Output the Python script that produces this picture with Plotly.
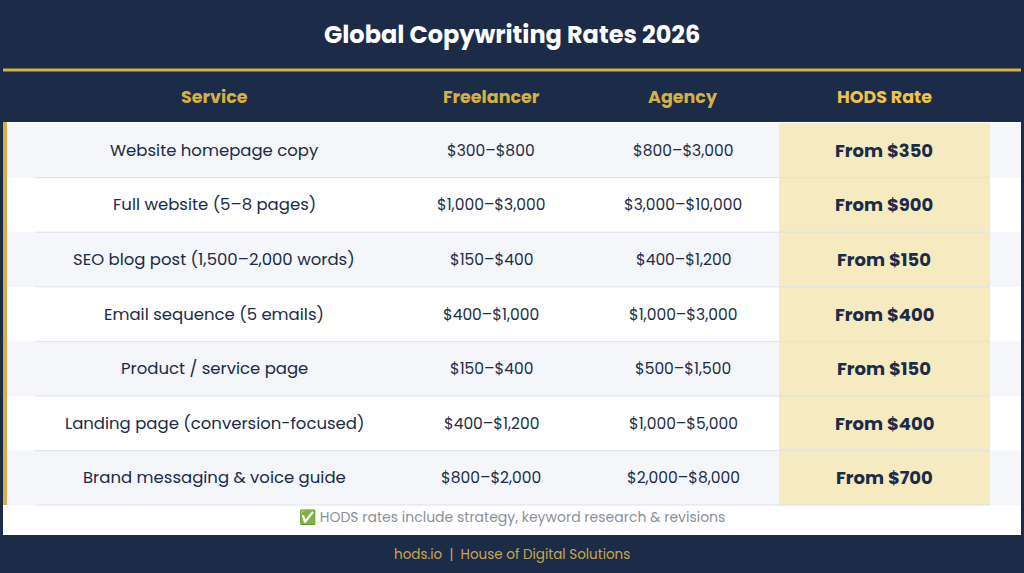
import plotly.graph_objects as go

title = "Global Copywriting Rates 2026"
headers = ["Service", "Freelancer", "Agency", "HODS Rate"]
services = ["Website homepage copy", "Full website (5–8 pages)", "SEO blog post (1,500–2,000 words)",
            "Email sequence (5 emails)", "Product / service page", "Landing page (conversion-focused)",
            "Brand messaging & voice guide"]
freelancer = ["$300–$800", "$1,000–$3,000", "$150–$400", "$400–$1,000", "$150–$400", "$400–$1,200", "$800–$2,000"]
agency = ["$800–$3,000", "$3,000–$10,000", "$400–$1,200", "$1,000–$3,000", "$500–$1,500", "$1,000–$5,000", "$2,000–$8,000"]
hods = ["From $350", "From $900", "From $150", "From $400", "From $150", "From $400", "From $700"]
note = "✅ HODS rates include strategy, keyword research & revisions"
footer = "hods.io  |  House of Digital Solutions"

NAVY = "#1b2b48"; GOLD = "#d4b04a"; CREAM = "#f5eac0"; ALT = "#f4f6fa"; TXT = "#1b2b48"
FONT = "Poppins, Lato, sans-serif"
col_x = [214, 491, 683, 884]
row_top = 123; row_h = 54.6

shapes = []
ann = []
def rect(x0, y0, x1, y1, color):
    shapes.append(dict(type="rect", xref="x", yref="y", x0=x0, y0=y0, x1=x1, y1=y1,
                       fillcolor=color, line=dict(width=0), layer="below"))

rect(3, 122, 1021, 535, "white")
for i in range(len(services)):
    y0 = row_top + i * row_h
    if i % 2 == 0:
        rect(3, y0, 1021, y0 + row_h, ALT)
    rect(779, y0, 990, y0 + row_h, CREAM)
    if i > 0:
        shapes.append(dict(type="line", xref="x", yref="y", x0=35, x1=990, y0=y0, y1=y0,
                           line=dict(color="#dde1e8", width=1)))
    yc = y0 + row_h / 2
    for x, t, b in [(col_x[0], services[i], False), (col_x[1], freelancer[i], False),
                    (col_x[2], agency[i], False), (col_x[3], hods[i], True)]:
        ann.append(dict(x=x, y=yc, xref="x", yref="y", showarrow=False,
                        text=f"<b>{t}</b>" if b else t,
                        font=dict(family=FONT, size=18 if b else (16.5 if x == col_x[0] else 15.5), color=TXT)))
shapes.append(dict(type="line", xref="x", yref="y", x0=35, x1=990, y0=505, y1=505, line=dict(color="#dde1e8", width=1)))
rect(3, 122, 7, 505, GOLD)
shapes.append(dict(type="line", xref="x", yref="y", x0=3, x1=1021, y0=70, y1=70, line=dict(color=GOLD, width=3)))

ann.append(dict(x=512, y=34, xref="x", yref="y", showarrow=False, text=f"<b>{title}</b>",
                font=dict(family=FONT, size=24, color="white")))
for x, h in zip(col_x, headers):
    ann.append(dict(x=x, y=97, xref="x", yref="y", showarrow=False, text=f"<b>{h}</b>",
                    font=dict(family=FONT, size=17.5, color=GOLD if h != "HODS Rate" else "#f0c24a")))
ann.append(dict(x=512, y=517, xref="x", yref="y", showarrow=False, text=note,
                font=dict(family=FONT, size=14, color="#8a8f99")))
ann.append(dict(x=512, y=554, xref="x", yref="y", showarrow=False, text=footer,
                font=dict(family=FONT, size=13.5, color="#c9a84a")))

fig = go.Figure()
fig.update_layout(width=1024, height=573, margin=dict(l=0, r=0, t=0, b=0),
                  paper_bgcolor=NAVY, plot_bgcolor=NAVY, shapes=shapes, annotations=ann,
                  xaxis=dict(range=[0, 1024], visible=False, fixedrange=True),
                  yaxis=dict(range=[573, 0], visible=False, fixedrange=True),
                  showlegend=False)
fig.write_html("out.html", config={"displayModeBar": False})
with open("out.html", encoding="utf-8") as f:
    html = f.read()
html = html.replace("<head>", "<head><style>html,body{margin:0;padding:0;overflow:hidden;background:#1b2b48}</style>", 1)
with open("out.html", "w", encoding="utf-8") as f:
    f.write(html)
